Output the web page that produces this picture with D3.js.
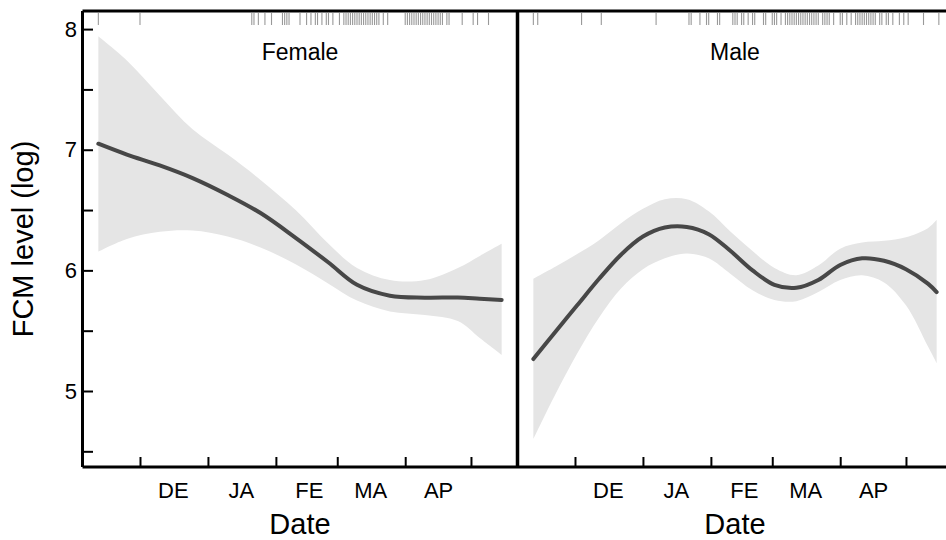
<!DOCTYPE html>
<html>
<head>
<meta charset="utf-8">
<script src="https://cdn.jsdelivr.net/npm/d3@7"></script>
<style>
  body { margin: 0; background: #fff; }
  svg text { font-family: "Liberation Sans", Arial, sans-serif; fill: #000; }
</style>
</head>
<body>
<svg id="chart" width="946" height="540"></svg>
<script>
// x values are "day of season", 0 = 1 November
var season0 = new Date(2012, 10, 1);

var femaleDays  = [11, 24, 39, 54, 70, 85, 101, 116, 129, 144, 160, 175, 185, 195];
var femaleFit   = [7.05, 6.96, 6.87, 6.765, 6.625, 6.475, 6.27, 6.065, 5.88, 5.79, 5.774, 5.775, 5.765, 5.755];
var femaleUpper = [7.94, 7.74, 7.45, 7.17, 6.96, 6.75, 6.50, 6.22, 6.02, 5.92, 5.92, 6.02, 6.12, 6.22];
var femaleLower = [6.155, 6.26, 6.32, 6.33, 6.28, 6.19, 6.05, 5.89, 5.75, 5.66, 5.63, 5.58, 5.44, 5.30];

var maleDays  = [11, 21, 31, 41, 51, 61, 71, 81, 91, 101, 111, 121, 131, 141, 151, 161, 171, 181, 191, 195];
var maleFit   = [5.265, 5.49, 5.71, 5.93, 6.13, 6.28, 6.355, 6.36, 6.30, 6.16, 6.00, 5.88, 5.855, 5.92, 6.045, 6.10, 6.08, 6.01, 5.89, 5.82];
var maleUpper = [5.93, 6.03, 6.135, 6.25, 6.39, 6.51, 6.59, 6.59, 6.49, 6.32, 6.16, 6.02, 5.96, 6.04, 6.18, 6.23, 6.245, 6.275, 6.35, 6.42];
var maleLower = [4.60, 4.97, 5.31, 5.61, 5.85, 6.01, 6.10, 6.14, 6.10, 5.97, 5.835, 5.755, 5.745, 5.82, 5.92, 5.96, 5.90, 5.71, 5.37, 5.23];

// sampling days (rug at top)
var femaleRug = [11, 30, 81, 82, 84, 87, 90, 95, 96, 97, 98, 103, 106, 108, 110, 111, 113, 115, 116, 118,
  121, 123, 124, 125, 126, 127, 128, 129, 130, 131, 132, 133, 134, 135, 136, 137, 138, 139, 141, 143,
  151, 152, 153, 154, 155, 156, 157, 158, 159, 160, 161, 162, 163, 164, 165, 166, 167, 168, 170, 171,
  177, 182, 184, 189];
var maleRug = [11, 13, 33, 42, 67, 82, 83, 87, 90, 91, 95, 96, 102, 103, 104, 106, 107, 109, 111, 112,
  116, 117, 120, 121, 122, 124, 126, 127, 128, 129, 130, 131, 132, 133, 134, 135, 136, 137, 138, 139,
  140, 141, 143, 144, 145, 146, 148, 151, 152, 154, 156, 158, 159, 160, 161, 162, 163, 164, 165, 166,
  167, 169, 170, 172, 173, 175, 178, 180, 182, 189, 196];

var monthLabels = ["DE", "JA", "FE", "MA", "AP"];
var yMajor = [5, 6, 7, 8];
var yMinor = [4.5, 5.5, 6.5, 7.5];

var toDate = function(d){ return d3.timeDay.offset(season0, d); };

var svg = d3.select('#chart');
var top_ = 11, bottom = 467, panelW = 434;

var y = d3.scaleLinear().domain([4.37, 8.15]).range([bottom, top_]);
var x = d3.scaleTime().domain([toDate(4), toDate(202)]).range([0, panelW]);

var monthStarts = d3.timeMonth.range(toDate(30), toDate(182));
var monthMids = monthStarts.slice(0, 5).map(function(d){ return d3.timeDay.offset(d, 15); });

var panels = [
  {name: "Female", left: 83, days: femaleDays, fit: femaleFit, upper: femaleUpper, lower: femaleLower, rug: femaleRug},
  {name: "Male", left: 518, days: maleDays, fit: maleFit, upper: maleUpper, lower: maleLower, rug: maleRug}
];

panels.forEach(function(p, pi){
  var g = svg.append('g').attr('transform', 'translate(' + p.left + ',0)');
  var rows = p.days.map(function(d, i){
    return {date: toDate(d), fit: p.fit[i], up: p.upper[i], lo: p.lower[i]};
  });

  var area = d3.area()
    .x(function(d){ return x(d.date); })
    .y0(function(d){ return y(d.lo); })
    .y1(function(d){ return y(d.up); })
    .curve(d3.curveCatmullRom);
  g.append('path').datum(rows).attr('d', area).attr('fill', '#e5e5e5');

  var line = d3.line()
    .x(function(d){ return x(d.date); })
    .y(function(d){ return y(d.fit); })
    .curve(d3.curveCatmullRom);
  g.append('path').datum(rows).attr('d', line)
    .attr('fill', 'none').attr('stroke', '#474747')
    .attr('stroke-width', 4).attr('stroke-linecap', 'round');

  // rug
  g.selectAll('.rug').data(p.rug).enter().append('line')
    .attr('class', 'rug')
    .attr('x1', function(d){ return x(toDate(d)); })
    .attr('x2', function(d){ return x(toDate(d)); })
    .attr('y1', 13).attr('y2', 25)
    .attr('stroke', '#999999').attr('stroke-width', 1.1);

  // x ticks (inward) and month labels
  var xt = g.append('g').attr('transform', 'translate(0,' + bottom + ')')
    .call(d3.axisBottom(x).tickValues(monthStarts).tickSize(-10).tickSizeOuter(0).tickFormat(''));
  xt.select('.domain').remove();
  xt.selectAll('line').attr('stroke', '#000').attr('stroke-width', 2);

  var xl = g.append('g').attr('transform', 'translate(0,' + bottom + ')')
    .call(d3.axisBottom(x).tickValues(monthMids).tickSize(0).tickPadding(15.5)
      .tickFormat(function(d, i){ return monthLabels[i]; }));
  xl.select('.domain').remove();
  xl.selectAll('text').style('font-size', '22px').attr('fill', '#000');

  g.append('text').attr('x', panelW / 2).attr('y', 534)
    .attr('text-anchor', 'middle').style('font-size', '29px').text('Date');

  g.append('text').attr('x', panelW / 2).attr('y', 60)
    .attr('text-anchor', 'middle').style('font-size', '23px').text(p.name);

  if(pi === 0){
    var ya = g.append('g')
      .call(d3.axisLeft(y).tickValues(yMajor).tickSize(-10).tickPadding(6).tickFormat(d3.format('d')));
    ya.select('.domain').remove();
    ya.selectAll('line').attr('stroke', '#000').attr('stroke-width', 2);
    ya.selectAll('text').style('font-size', '22px').attr('fill', '#000');

    var ym = g.append('g')
      .call(d3.axisLeft(y).tickValues(yMinor).tickSize(-10).tickFormat(''));
    ym.select('.domain').remove();
    ym.selectAll('line').attr('stroke', '#000').attr('stroke-width', 2);
  }
});

// frame
var frame = svg.append('g').attr('stroke', '#000').attr('stroke-width', 3).attr('fill', 'none');
frame.append('line').attr('x1', 82.5).attr('x2', 946).attr('y1', top_).attr('y2', top_);
frame.append('line').attr('x1', 82.5).attr('x2', 946).attr('y1', bottom).attr('y2', bottom);
frame.append('line').attr('x1', 82.5).attr('x2', 82.5).attr('y1', top_).attr('y2', bottom);
frame.append('line').attr('x1', 517.5).attr('x2', 517.5).attr('y1', top_).attr('y2', bottom).attr('stroke-width', 3.5);

svg.append('text')
  .attr('transform', 'translate(33,' + ((top_ + bottom) / 2) + ') rotate(-90)')
  .attr('text-anchor', 'middle').style('font-size', '29px').text('FCM level (log)');
</script>
</body>
</html>
